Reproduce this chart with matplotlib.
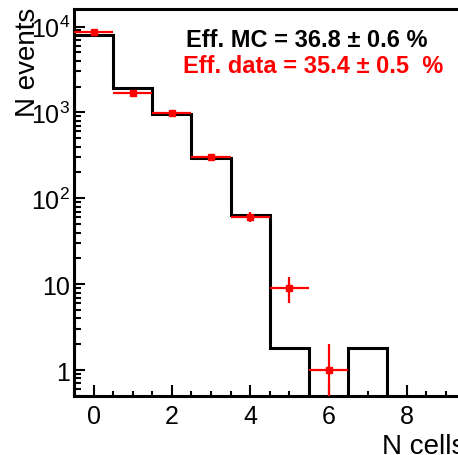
import numpy as np
import matplotlib
matplotlib.use('Agg')
import matplotlib.pyplot as plt
from matplotlib.ticker import FixedLocator, MultipleLocator, NullFormatter, FixedFormatter

plt.rcParams['font.family'] = ['Liberation Sans', 'DejaVu Sans']
plt.rcParams['mathtext.fontset'] = 'custom'
plt.rcParams['mathtext.rm'] = 'Liberation Sans'
plt.rcParams['mathtext.it'] = 'Liberation Sans:italic'
plt.rcParams['mathtext.bf'] = 'Liberation Sans:bold'

# ---- data ----
bin_centers = [0, 1, 2, 3, 4, 5, 6, 7]
mc_counts = [8070, 1920, 958, 292, 64, 1.79, 0, 1.79]
data_x = [0, 1, 2, 3, 4, 5, 6]
data_counts = [8750, 1680, 990, 305, 61, 9, 1]
y_tick_values = [1, 10, 100, 1000, 10000]
y_tick_labels = ['1', '10', r'$\mathregular{10^{2}}$', r'$\mathregular{10^{3}}$', r'$\mathregular{10^{4}}$']
x_label = 'N cells'
y_label = 'N events'
text_mc = 'Eff. MC = 36.8 ± 0.6 %'
text_data = 'Eff. data = 35.4 ± 0.5  %'

W, H = 458, 456
fig = plt.figure(figsize=(W / 100, H / 100), dpi=100)
left_px, right_px, top_px, bottom_px = 74, 465.6, 10, 397
ax = fig.add_axes([left_px / W, (H - bottom_px) / H,
                   (right_px - left_px) / W, (bottom_px - top_px) / H])

ax.set_yscale('log', nonpositive='clip')
ax.set_xlim(-0.5, 9.5)
ax.set_ylim(0.5, 1.6e4)

centers = np.asarray(bin_centers, dtype=float)
edges = np.append(centers - 0.5, centers[-1] + 0.5)
ax.stairs(mc_counts, edges, baseline=0, color='black', lw=2.2, zorder=2)

dc = np.asarray(data_counts, dtype=float)
ax.errorbar(data_x, dc, xerr=0.5, yerr=np.sqrt(dc), fmt='s', color='#ff0000',
            ms=5, elinewidth=1.6, capsize=0, zorder=3)

for side in ['left', 'bottom', 'top']:
    ax.spines[side].set_linewidth(2.2)
ax.spines['right'].set_visible(False)

ax.xaxis.set_major_locator(MultipleLocator(2))
ax.xaxis.set_minor_locator(MultipleLocator(0.5))
ax.yaxis.set_major_locator(FixedLocator(y_tick_values))
ax.yaxis.set_major_formatter(FixedFormatter(y_tick_labels))
minor_y = [m * 10 ** d for d in range(-1, 5) for m in range(2, 10)]
ax.yaxis.set_minor_locator(FixedLocator(minor_y))
ax.yaxis.set_minor_formatter(NullFormatter())

ax.tick_params(which='both', direction='in', top=False, right=False, width=1.5)
ax.tick_params(axis='x', which='major', length=8, labelsize=18, pad=6)
ax.tick_params(axis='x', which='minor', length=3.5)
ax.tick_params(axis='y', which='major', length=8, labelsize=18, pad=3)
ax.tick_params(axis='y', which='minor', length=5)

fig.text(382 / W, (H - 454) / H, x_label, fontsize=20, ha='left', va='baseline')
fig.text(35 / W, (H - 8) / H, y_label, fontsize=20, rotation=90,
         rotation_mode='anchor', ha='right', va='baseline')

fig.text(186 / W, (H - 47) / H, text_mc, fontsize=17, fontweight='bold',
         color='black', ha='left', va='baseline')
fig.text(183 / W, (H - 73) / H, text_data, fontsize=17, fontweight='bold',
         color='#ff0000', ha='left', va='baseline')

fig.savefig('out.png', dpi=100)
